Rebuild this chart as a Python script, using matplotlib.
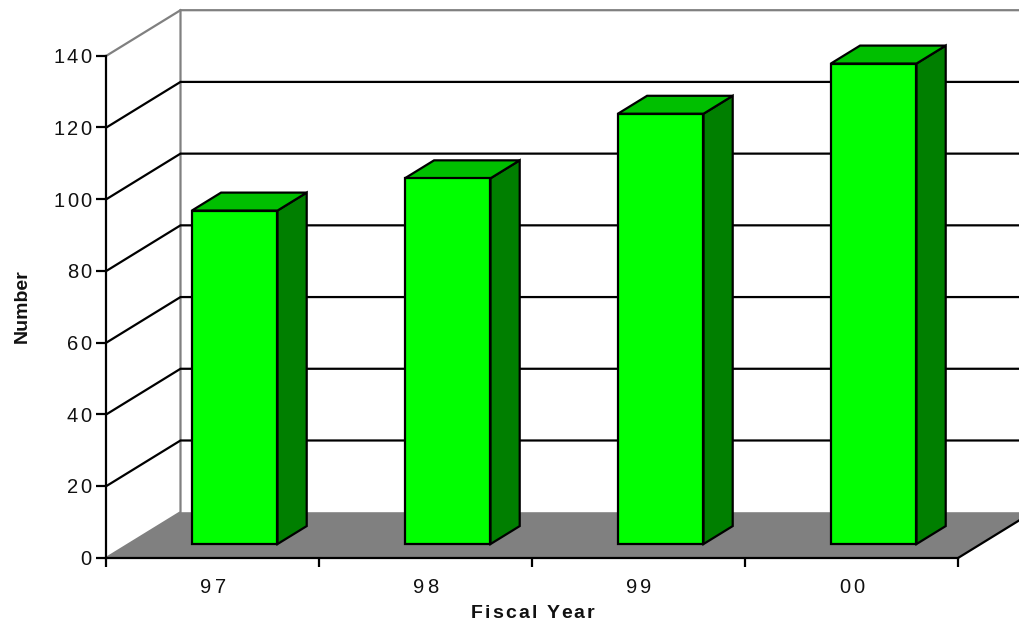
import matplotlib
matplotlib.use("Agg")
import matplotlib.pyplot as plt
from matplotlib.patches import Polygon
from matplotlib.text import Text
from matplotlib.transforms import IdentityTransform

# Data
categories = ["97", "98", "99", "00"]
values = [93, 102, 120, 134]
y_ticks = [0, 20, 40, 60, 80, 100, 120, 140]

# Letter spacing for horizontal text (matplotlib has no option for it)
_text_draw = Text.draw


def tracked_draw(self, renderer):
    tracking = getattr(self, 'tracking', 0)
    s = self.get_text()
    if not tracking or not self.get_visible() or len(s) < 2:
        return _text_draw(self, renderer)
    prop = self.get_fontproperties()
    box = self.get_window_extent(renderer)
    width = lambda t: renderer.get_text_width_height_descent(t, prop, False)[0]
    descent = renderer.get_text_width_height_descent("lp", prop, False)[2]
    total = box.width + tracking * (len(s) - 1)
    ha = self.get_horizontalalignment()
    start = {'left': box.x0, 'right': box.x1 - total}.get(ha, (box.x0 + box.x1 - total) / 2)
    for i, ch in enumerate(s):
        Text(start + width(s[:i]) + i * tracking, box.y0 + descent, ch, ha='left',
             va='baseline', fontproperties=prop, color=self.get_color(),
             transform=IdentityTransform(), figure=self.figure).draw(renderer)


Text.draw = tracked_draw

W, H = 1020, 627
plt.rcParams['font.family'] = ['Liberation Sans', 'DejaVu Sans']
fig = plt.figure(figsize=(W / 100, H / 100), dpi=100, facecolor='white')
L, R, T, B = 106.5, 958.5, 55.7, 557.7
ax = fig.add_axes([L / W, 1 - B / H, (R - L) / W, (B - T) / H])
n = len(categories)
ymax = y_ticks[-1]
ax.set_xlim(0, n)
ax.set_ylim(0, ymax)
ax.patch.set_visible(False)

px_x = (R - L) / n          # pixels per category
px_y = (B - T) / ymax       # pixels per value unit
DX = 74 / px_x              # full depth in data units
DY = 45.5 / px_y
LW = 1.6
GRAY = '#808080'


def at(x, y, d=0.0):
    """Oblique projection: d is the fraction of the chart depth."""
    return (x + d * DX, y + d * DY)


# floor
ax.add_patch(Polygon([at(0, 0), at(n, 0), at(n, 0, 1), at(0, 0, 1)], closed=True,
                     facecolor=GRAY, edgecolor='none', clip_on=False, zorder=1))
# walls
ax.plot(*zip(at(0, 0), at(0, 0, 1), at(0, ymax, 1), at(n, ymax, 1)),
        color=GRAY, lw=LW, clip_on=False, zorder=2, solid_joinstyle='miter')
ax.plot(*zip(at(0, ymax), at(0, ymax, 1)), color=GRAY, lw=LW, clip_on=False, zorder=2)
# grid lines
for v in y_ticks[1:-1]:
    ax.plot(*zip(at(0, v), at(0, v, 1), at(n, v, 1)), color='black', lw=LW,
            clip_on=False, zorder=3, solid_joinstyle='miter')
# right edge of floor
ax.plot(*zip(at(n, 0), at(n, 0, 1)), color='black', lw=LW, clip_on=False, zorder=3)

# bars
bar_w = 0.402
d0, d1 = 0.30, 0.695
edge = dict(edgecolor='black', linewidth=LW, clip_on=False, zorder=5, joinstyle='miter')
for i, v in enumerate(values):
    x0 = i + 0.4975 - bar_w / 2
    x1 = x0 + bar_w
    ax.add_patch(Polygon([at(x1, 0, d0), at(x1, 0, d1), at(x1, v, d1), at(x1, v, d0)],
                         closed=True, facecolor='#007F00', **edge))
    ax.add_patch(Polygon([at(x0, v, d0), at(x1, v, d0), at(x1, v, d1), at(x0, v, d1)],
                         closed=True, facecolor='#00BF00', **edge))
    ax.add_patch(Polygon([at(x0, 0, d0), at(x1, 0, d0), at(x1, v, d0), at(x0, v, d0)],
                         closed=True, facecolor='#00FF00', **edge))

# axes
for s in ('top', 'right'):
    ax.spines[s].set_visible(False)
for s in ('left', 'bottom'):
    ax.spines[s].set_linewidth(LW)
    ax.spines[s].set_zorder(6)
ax.set_yticks(y_ticks)
ax.set_xticks(range(n + 1))
ax.set_xticklabels([])
ax.set_xticks([i + 0.5 for i in range(n)], minor=True)
ax.set_xticklabels(categories, minor=True)
ax.tick_params(axis='y', direction='out', length=7.5, width=LW, pad=3.5, labelsize=14.5,
               labelcolor='#111111')
ax.tick_params(axis='x', which='major', direction='out', length=6.5, width=LW)
ax.tick_params(axis='x', which='minor', length=0, pad=14.5, labelsize=14.5,
               labelcolor='#111111')
fig.canvas.draw()
for lab in ax.get_yticklabels():
    lab.tracking = 2
for lab in ax.get_xticklabels(minor=True):
    lab.tracking = 3

xlab = fig.text(532.5 / W, 1 - 613.5 / H, "Fiscal Year", ha='center', va='center',
                fontsize=14, fontweight='bold', color='#111111')
xlab.tracking = 2.2
fig.text(22 / W, 1 - 306 / H, "Number", ha='center', va='center', rotation=90,
         fontsize=14, fontweight='bold', color='#111111')

fig.savefig('out.png', dpi=100)
